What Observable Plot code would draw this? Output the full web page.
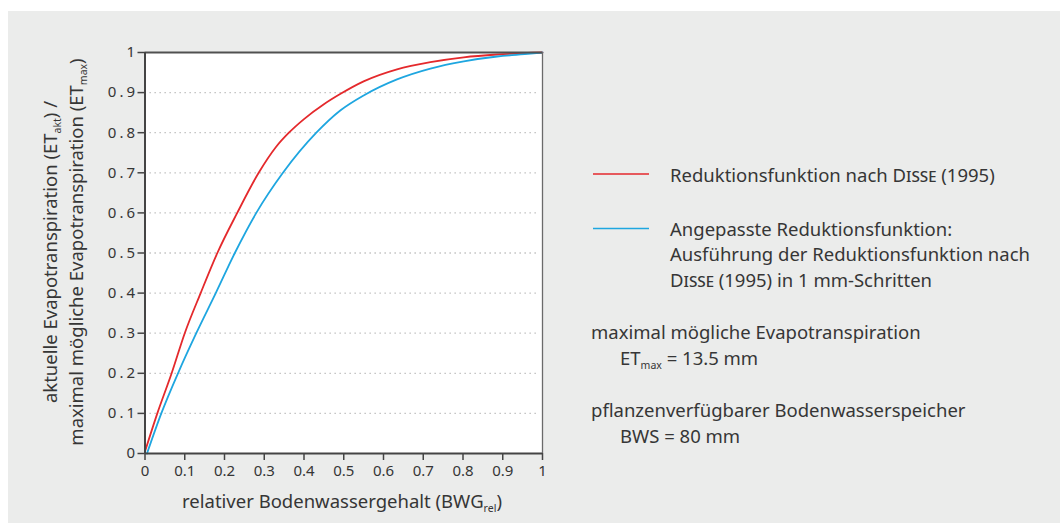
<!DOCTYPE html>
<html>
<head>
<meta charset="utf-8">
<script src="https://cdn.jsdelivr.net/npm/d3@7"></script>
<script src="https://cdn.jsdelivr.net/npm/@observablehq/plot@0.6"></script>
<style>
  html, body { margin: 0; padding: 0; background: #ffffff; }
  #wrap { position: relative; width: 1060px; height: 523px; overflow: hidden; }
  #bg { position: absolute; left: 8px; top: 11px; right: 0; bottom: 0; background: #ebeceb; }
  #chart { position: absolute; left: 0; top: 0; }
</style>
</head>
<body>
<div id="wrap"><div id="bg"></div><div id="chart"></div></div>
<script>
// Reduktionsfunktion nach Disse (1995): BWG_rel -> ET_akt / ET_max
const disseX = [0, 0.031, 0.067, 0.100, 0.140, 0.182, 0.232, 0.286, 0.330, 0.362, 0.400, 0.450, 0.492, 0.550, 0.634, 0.718, 0.802, 0.886, 1.0];
const disseY = [0.005, 0.100, 0.200, 0.300, 0.400, 0.500, 0.600, 0.700, 0.765, 0.800, 0.834, 0.871, 0.897, 0.928, 0.958, 0.976, 0.988, 0.995, 1.0];

// Angepasste Reduktionsfunktion (1 mm-Schritte)
const angepX = [0.005, 0.041, 0.083, 0.129, 0.178, 0.226, 0.280, 0.347, 0.431, 0.492, 0.550, 0.634, 0.718, 0.802, 0.886, 0.970, 1.0];
const angepY = [0, 0.100, 0.200, 0.300, 0.400, 0.500, 0.600, 0.700, 0.800, 0.856, 0.893, 0.933, 0.960, 0.978, 0.990, 0.997, 1.0];

const xTicks = [0, 0.1, 0.2, 0.3, 0.4, 0.5, 0.6, 0.7, 0.8, 0.9, 1];
const xTickLabels = ["0", "0.1", "0.2", "0.3", "0.4", "0.5", "0.6", "0.7", "0.8", "0.9", "1"];
const yTicks = [0, 0.1, 0.2, 0.3, 0.4, 0.5, 0.6, 0.7, 0.8, 0.9, 1];
const yTickLabels = ["0", "0.1", "0.2", "0.3", "0.4", "0.5", "0.6", "0.7", "0.8", "0.9", "1"];
const gridLevels = [0.1, 0.2, 0.3, 0.4, 0.5, 0.6, 0.7, 0.8, 0.9];

const RED = "#e4292c";
const BLUE = "#1ea6e0";
const INK = "#363636";
const FONT = "'Noto Sans', 'Open Sans', sans-serif";

const disse = disseX.map((x, i) => ({x, y: disseY[i]}));
const angep = angepX.map((x, i) => ({x, y: angepY[i]}));
const xLab = new Map(xTicks.map((t, i) => [t, xTickLabels[i]]));
const yLab = new Map(yTicks.map((t, i) => [t, yTickLabels[i]]));

const chart = Plot.plot({
  width: 1060,
  height: 523,
  marginLeft: 144.5,
  marginRight: 518,
  marginTop: 52,
  marginBottom: 70,
  style: { background: "transparent", fontFamily: FONT, color: INK },
  x: { domain: [0, 1] },
  y: { domain: [0, 1] },
  marks: [
    Plot.frame({ fill: "#ffffff", stroke: null }),
    Plot.ruleY(gridLevels, { stroke: "#b8b8b8", strokeWidth: 1.3, strokeDasharray: "1.3,3.7", insetRight: 4 }),
    Plot.line(disse, { x: "x", y: "y", stroke: RED, strokeWidth: 1.8, curve: "monotone-x" }),
    Plot.line(angep, { x: "x", y: "y", stroke: BLUE, strokeWidth: 1.8, curve: "monotone-x" }),
    Plot.ruleY([1], { stroke: "#505050", strokeWidth: 2 }),
    Plot.ruleX([1], { stroke: "#6a6a6a", strokeWidth: 1.3 }),
    Plot.axisX({ ticks: xTicks, tickFormat: d => xLab.get(d), tickSize: 7, tickPadding: 5, fontSize: 15, stroke: "#444", strokeWidth: 1.5, label: null }),
    Plot.axisY({ ticks: yTicks, tickFormat: d => yLab.get(d), tickSize: 7, tickPadding: 0, fontSize: 15, stroke: "#444", strokeWidth: 1.5, label: null }),
    Plot.ruleX([0], { stroke: "#444", strokeWidth: 2 }),
    Plot.ruleY([0], { stroke: "#444", strokeWidth: 2 })
  ]
});
document.getElementById("chart").appendChild(chart);

const svg = d3.select(chart);
// wider digit spacing on the y tick labels
svg.selectAll('g[aria-label="y-axis tick label"] text').attr("letter-spacing", "3px");

// Titles and legend, written with sub-scripts
const g = svg.append("g").attr("fill", INK).attr("font-family", FONT).attr("font-size", 18.5).attr("text-anchor", "start");

function withSub(sel, parts) {
  // parts: array of [text, isSub]
  let lowered = false;
  parts.forEach(([t, sub]) => {
    const ts = sel.append("tspan").text(t);
    if (sub && !lowered) { ts.attr("dy", 4).attr("font-size", 10.5); lowered = true; }
    else if (sub) { ts.attr("font-size", 10.5); }
    else if (lowered) { ts.attr("dy", -4); lowered = false; }
  });
  return sel;
}

// x axis title
withSub(g.append("text").attr("x", 342).attr("y", 508).attr("text-anchor", "middle"),
  [["relativer Bodenwassergehalt (BWG", false], ["rel", true], [")", false]]);

// y axis title, two lines
const yTitle = g.append("g").attr("transform", "translate(57,252) rotate(-90)");
withSub(yTitle.append("text").attr("x", 0).attr("y", 0).attr("text-anchor", "middle"),
  [["aktuelle Evapotranspiration (ET", false], ["akt", true], [") /", false]]);
withSub(yTitle.append("text").attr("x", 0).attr("y", 25.5).attr("text-anchor", "middle"),
  [["maximal mögliche Evapotranspiration (ET", false], ["max", true], [")", false]]);

// legend
const leg = g.append("g");
leg.append("line").attr("x1", 593).attr("x2", 649).attr("y1", 174).attr("y2", 174).attr("stroke", RED).attr("stroke-width", 1.6);
const t1 = leg.append("text").attr("x", 670).attr("y", 182);
t1.append("tspan").text("Reduktionsfunktion nach ");
t1.append("tspan").attr("font-variant", "small-caps").text("Disse");
t1.append("tspan").text(" (1995)");

leg.append("line").attr("x1", 593).attr("x2", 649).attr("y1", 228.5).attr("y2", 228.5).attr("stroke", BLUE).attr("stroke-width", 1.6);
leg.append("text").attr("x", 670).attr("y", 235.5).text("Angepasste Reduktionsfunktion:");
leg.append("text").attr("x", 670).attr("y", 261).text("Ausführung der Reduktionsfunktion nach");
const t3 = leg.append("text").attr("x", 670).attr("y", 286.5);
t3.append("tspan").attr("font-variant", "small-caps").text("Disse");
t3.append("tspan").text(" (1995) in 1 mm-Schritten");

leg.append("text").attr("x", 591).attr("y", 339).text("maximal mögliche Evapotranspiration");
withSub(leg.append("text").attr("x", 620).attr("y", 365),
  [["ET", false], ["max", true], [" = 13.5 mm", false]]);
leg.append("text").attr("x", 591).attr("y", 417).text("pflanzenverfügbarer Bodenwasserspeicher");
leg.append("text").attr("x", 620).attr("y", 443).text("BWS = 80 mm");
</script>
</body>
</html>
